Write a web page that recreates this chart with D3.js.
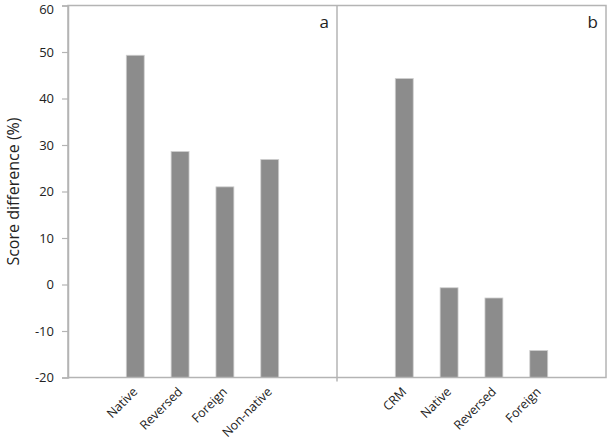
<!DOCTYPE html>
<html>
<head>
<meta charset="utf-8">
<script src="https://cdn.jsdelivr.net/npm/d3@7"></script>
<style>
  body { margin: 0; background: #fff; }
  text { font-family: "Open Sans", "Liberation Sans", sans-serif; fill: #222; }
</style>
</head>
<body>
<div id="chart-area"></div>
<script>
// Panel a
var catsA = ["", "Native", "Reversed", "Foreign", "Non-native", " "];
var valsA = [null, 49.3, 28.6, 21.0, 26.9, null];
// Panel b
var catsB = ["", "CRM", "Native", "Reversed", "Foreign", " "];
var valsB = [null, 44.3, -0.7, -2.9, -14.2, null];
var yTicks = [-20, -10, 0, 10, 20, 30, 40, 50, 60];

var width = 609, height = 447;
var margin = {top: 5.5, bottom: 69.5, left: 68, right: 3};

var svg = d3.select("#chart-area").append("svg")
	.attr("width", width)
	.attr("height", height);

var y = d3.scaleLinear()
	.domain([-20, 60])
	.range([height - margin.bottom, margin.top]);

var plotW = width - margin.left - margin.right;
var mid = margin.left + plotW / 2;

var panels = [
	{cats: catsA, vals: valsA, x0: margin.left, x1: mid, label: "a"},
	{cats: catsB, vals: valsB, x0: mid, x1: width - margin.right, label: "b"}
];

var axisCol = "#b4b4b4";

panels.forEach(function(p) {
	var x = d3.scaleBand()
		.domain(p.cats)
		.range([p.x0, p.x1])
		.paddingInner(0.6)
		.paddingOuter(0.3);

	var data = p.cats.map(function(c, i) { return {cat: c, val: p.vals[i]}; })
		.filter(function(d) { return d.val !== null; });

	svg.selectAll(null)
		.data(data)
		.enter()
		.append("rect")
		.attr("x", function(d) { return x(d.cat); })
		.attr("y", function(d) { return y(d.val); })
		.attr("width", x.bandwidth())
		.attr("height", function(d) { return y(-20) - y(d.val); })
		.attr("fill", "#8c8c8c")
		.attr("stroke", "#cfcfcf")
		.attr("stroke-width", 0.8);

	// category labels, rotated
	svg.selectAll(null)
		.data(data)
		.enter()
		.append("text")
		.attr("text-anchor", "end")
		.attr("font-size", 12.5)
		.attr("transform", function(d) {
			var cx = x(d.cat) + x.bandwidth() / 2 + 3;
			return "translate(" + cx + "," + (y(-20) + 15) + ") rotate(-45)";
		})
		.text(function(d) { return d.cat; });

	// panel letter
	svg.append("text")
		.attr("x", p.x1 - 8)
		.attr("y", 28)
		.attr("text-anchor", "end")
		.attr("font-size", 17)
		.text(p.label);
});

// frame
svg.append("rect")
	.attr("x", margin.left)
	.attr("y", y(60))
	.attr("width", plotW)
	.attr("height", y(-20) - y(60))
	.attr("fill", "none")
	.attr("stroke", axisCol)
	.attr("stroke-width", 1.5);

svg.append("line")
	.attr("x1", mid).attr("x2", mid)
	.attr("y1", y(60)).attr("y2", y(-20) + 4)
	.attr("stroke", axisCol)
	.attr("stroke-width", 1.5);

// y axis
var yAxis = d3.axisLeft(y)
	.tickValues(yTicks)
	.tickFormat(function(d) { return String(d); })
	.tickSize(6)
	.tickPadding(8);
var gy = svg.append("g")
	.attr("transform", "translate(" + margin.left + ",0)")
	.call(yAxis);
gy.select(".domain").attr("stroke", axisCol).attr("stroke-width", 1.5);
gy.selectAll(".tick line").attr("stroke", axisCol).attr("stroke-width", 1.2);
gy.selectAll(".tick text")
	.attr("font-size", 13)
	.style("font-family", "'Open Sans', 'Liberation Sans', sans-serif")
	.attr("fill", "#222")
	.attr("dy", function(d) { return d === 60 ? "0.64em" : "0.32em"; });

// y label
svg.append("text")
	.attr("text-anchor", "middle")
	.attr("font-size", 16)
	.attr("transform", "translate(19," + y(20) + ") rotate(-90)")
	.text("Score difference (%)");
</script>
</body>
</html>
